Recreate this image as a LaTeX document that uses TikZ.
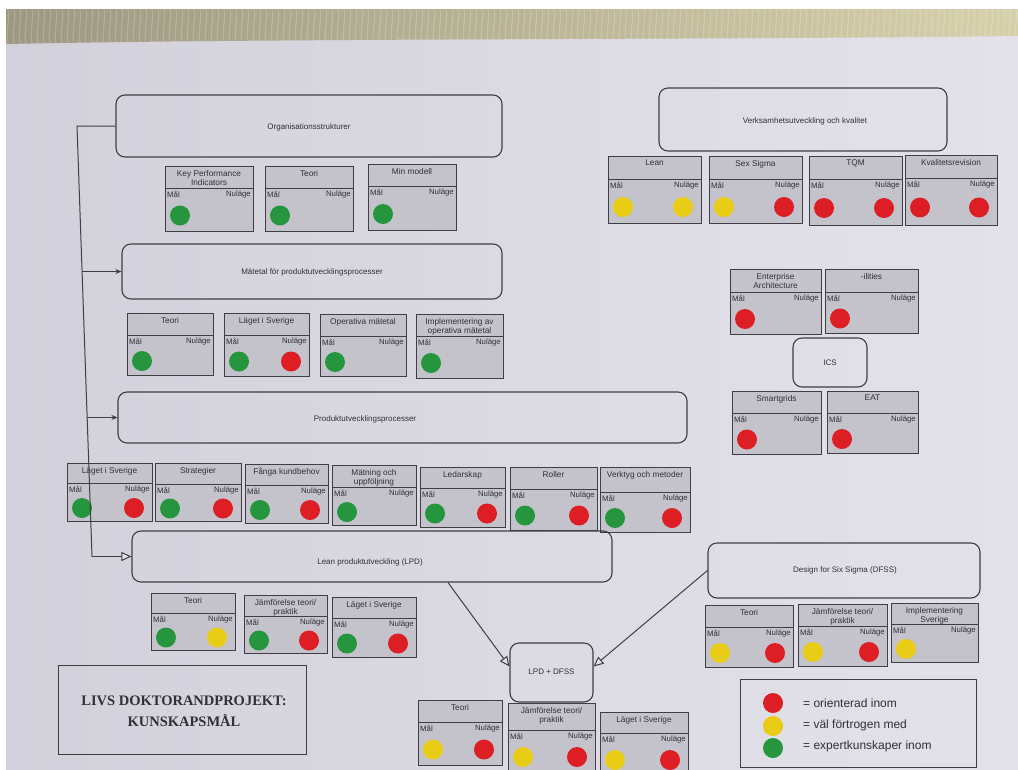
\documentclass[tikz,border=0pt]{standalone}
\usepackage{fontspec}
\setmainfont{Liberation Sans}
\newfontfamily\postertitle{Liberation Serif}
\usetikzlibrary{arrows.meta,calc}

\definecolor{paperL}{RGB}{210,208,218}
\definecolor{paperR}{RGB}{228,226,233}
\definecolor{wallL}{RGB}{158,152,130}
\definecolor{wallR}{RGB}{214,208,170}
\definecolor{boxline}{RGB}{62,62,68}
\definecolor{ink}{RGB}{48,48,54}
\definecolor{cellgray}{RGB}{196,195,204}
\definecolor{kgreen}{RGB}{38,150,62}
\definecolor{kred}{RGB}{221,30,36}
\definecolor{kyellow}{RGB}{232,204,22}

\tikzset{
  bigbox/.style={draw=boxline, line width=1.1pt, rounded corners=9pt, inner sep=0pt},
  bigtext/.style={text=ink, font=\fontsize{8}{9.5}\selectfont, inner sep=0pt},
  cellbox/.style={draw=boxline, line width=1pt, fill=cellgray},
  cellrule/.style={draw=boxline, line width=0.9pt},
  celltitle/.style={text=ink, font=\fontsize{8.3}{9.6}\selectfont, align=center, anchor=north, inner sep=0pt},
  celllabel/.style={text=ink, font=\fontsize{7.8}{9}\selectfont, inner sep=0pt},
  dotn/.style={circle, minimum size=20pt, inner sep=0pt, draw=none},
  conn/.style={draw=boxline, line width=1pt},
  filledtip/.style={-{Stealth[length=6pt,width=5pt]}},
  opentip/.style={-{Triangle[open,length=10pt,width=9pt,fill=paperR]}},
  wallfiber/.style={line width=1.2pt, draw=white, opacity=0.18},
}

% knowledge cell: x1, y1, x2, y2, divider y, title, name, goal dot colour, current dot colour
\newcommand\kbox[9]{%
  \pgfmathsetmacro\kcx{(#1+#3)/2}%
  \pgfmathsetmacro\kdy{(#5+#4)/2+6}%
  \pgfmathsetmacro\klx{#1+15}%
  \pgfmathsetmacro\krx{#3-18}%
  \path[cellbox] (#1,#2) rectangle (#3,#4);
  \draw[cellrule] (#1,#5) -- (#3,#5);
  \node[celltitle] (#7-t) at (\kcx,#2+4) {#6};
  \node[celllabel, anchor=north west] (#7-m) at (#1+2,#5+3) {Mål};
  \node[celllabel, anchor=north east] (#7-n) at (#3-2,#5+3) {Nuläge};
  \node[dotn, fill=#8] (#7-l) at (\klx,\kdy) {};
  \node[dotn, fill=#9] (#7-r) at (\krx,\kdy) {};
}

\begin{document}
\begin{tikzpicture}[x=1pt,y=-1pt]
\useasboundingbox (0,0) rectangle (1018,769);
\fill[white] (0,0) rectangle (1018,769);
% the poster sheet and the wall above it
\shade[left color=paperL, right color=paperR] (6,9) rectangle (1018,769);
\begin{scope}
  \clip (6,9) -- (1018,9) -- (1018,36) .. controls (700,40) and (300,38) .. (6,44) -- cycle;
  \shade[left color=wallL, right color=wallR] (6,9) rectangle (1018,46);
  \foreach \x in {8,14,...,1016} {
    \draw[wallfiber] (\x,9) .. controls (\x+2.5,18) and (\x-2.5,28) .. (\x,46);
  }
\end{scope}

% ---------- main chain on the left ----------
\node[bigbox, minimum width=386pt, minimum height=62pt] (org) at (309,126) {};
\node[bigtext] (orglabel) at (309,127) {Organisationsstrukturer};

\kbox{165}{166}{253}{231}{188}{Key Performance\\Indicators}{kpi}{kgreen}{none}
\kbox{265}{166}{353}{231}{188}{Teori}{orgteori}{kgreen}{none}
\kbox{368}{164}{456}{230}{186}{Min modell}{minmod}{kgreen}{none}

\node[bigbox, minimum width=380pt, minimum height=55pt] (mat) at (312,271.5) {};
\node[bigtext] (matlabel) at (312,272) {Mätetal för produktutvecklingsprocesser};

\kbox{127}{313}{213}{375}{335}{Teori}{mteori}{kgreen}{none}
\kbox{224}{313}{309}{376}{335}{Läget i Sverige}{mlaget}{kgreen}{kred}
\kbox{320}{314}{406}{376}{336}{Operativa mätetal}{mopm}{kgreen}{none}
\kbox{416}{314}{503}{378}{336}{Implementering av\\operativa mätetal}{mimpl}{kgreen}{none}

\node[bigbox, minimum width=569pt, minimum height=51pt] (prod) at (402.5,417.5) {};
\node[bigtext] (prodlabel) at (365,419) {Produktutvecklingsprocesser};

\kbox{67}{463}{152}{521}{483}{Läget i Sverige}{plaget}{kgreen}{kred}
\kbox{155}{463}{241}{521}{484}{Strategier}{pstrat}{kgreen}{kred}
\kbox{245}{464}{328}{523}{485}{Fånga kundbehov}{pfanga}{kgreen}{kred}
\kbox{332}{465}{416}{525}{487}{Mätning och\\uppföljning}{pmatn}{kgreen}{none}
\kbox{420}{467}{505}{527}{488}{Ledarskap}{pledar}{kgreen}{kred}
\kbox{510}{467}{597}{530}{489}{Roller}{proller}{kgreen}{kred}
\kbox{600}{467}{690}{532}{492}{Verktyg och metoder}{pverk}{kgreen}{kred}

\node[bigbox, minimum width=480pt, minimum height=51pt] (lpd) at (372,556.5) {};
\node[bigtext] (lpdlabel) at (370,562) {Lean produktutveckling (LPD)};

\kbox{151}{593}{235}{650}{613}{Teori}{lteori}{kgreen}{kyellow}
\kbox{244}{595}{327}{653}{616}{Jämförelse teori/\\praktik}{ljamf}{kgreen}{kred}
\kbox{332}{597}{416}{657}{618}{Läget i Sverige}{llaget}{kgreen}{kred}

% trunk joining the four blocks
\coordinate (t1) at (82,271.5);
\coordinate (t2) at (87,417.5);
\coordinate (t3) at (92,556.5);
\draw[conn] (org.west) -- (77,126) -- (t3);
\draw[conn, filledtip] (t1) -- (mat.west);
\draw[conn, filledtip] (t2) -- (prod.west);
\draw[conn, opentip] (t3) -- (lpd.west);

% ---------- quality block ----------
\node[bigbox, minimum width=288pt, minimum height=63pt] (verk) at (803,119.5) {};
\node[bigtext] (verklabel) at (805,121) {Verksamhetsutveckling och kvalitet};

\kbox{608}{156}{701}{223}{179}{Lean}{vlean}{kyellow}{kyellow}
\kbox{709}{156}{802}{223}{179}{Sex Sigma}{vsex}{kyellow}{kred}
\kbox{809}{156}{902}{225}{179}{TQM}{vtqm}{kred}{kred}
\kbox{905}{155}{997}{225}{178}{Kvalitetsrevision}{vkval}{kred}{kred}

% ---------- ICS block ----------
\kbox{730}{269}{821}{334}{292}{Enterprise\\Architecture}{ea}{kred}{none}
\kbox{825}{269}{918}{333}{292}{-ilities}{ilit}{kred}{none}
\node[bigbox, minimum width=74pt, minimum height=49pt] (ics) at (830,362.5) {};
\node[bigtext] (icslabel) at (830,363) {ICS};
\kbox{732}{391}{821}{454}{413}{Smartgrids}{smart}{kred}{none}
\kbox{827}{391}{918}{453}{413}{EAT}{eat}{kred}{none}

% ---------- DFSS and the combined block ----------
\node[bigbox, minimum width=272pt, minimum height=55pt] (dfss) at (844,570.5) {};
\node[bigtext] (dfsslabel) at (845,570) {Design for Six Sigma (DFSS)};

\kbox{705}{605}{793}{667}{627}{Teori}{dteori}{kyellow}{kred}
\kbox{798}{604}{887}{666}{626}{Jämförelse teori/\\praktik}{djamf}{kyellow}{kred}
\kbox{891}{603}{978}{662}{624}{Implementering\\Sverige}{dimpl}{kyellow}{none}

\node[bigbox, minimum width=83pt, minimum height=59pt] (both) at (551.5,672.5) {};
\node[bigtext] (bothlabel) at (551.5,672) {LPD + DFSS};

\draw[conn, opentip] ($(lpd.south west)!0.658!(lpd.south east)$) -- ($(both.north west)!0.4!(both.south west)$);
\draw[conn, opentip] (dfss.west) -- ($(both.north east)!0.4!(both.south east)$);

\kbox{418}{700}{502}{765}{722}{Teori}{bteori}{kyellow}{kred}
\kbox{508}{703}{595}{772}{730}{Jämförelse teori/\\praktik}{bjamf}{kyellow}{kred}
\kbox{600}{712}{688}{775}{733}{Läget i Sverige}{blaget}{kyellow}{kred}

% ---------- poster title ----------
\node[draw=boxline, line width=1pt, minimum width=248pt, minimum height=89pt, inner sep=0pt] (title) at (182,709.5) {};
\node[text=ink, font=\postertitle\bfseries\fontsize{14.5}{21}\selectfont, align=center, inner sep=0pt] (titletext) at (184,711)
  {LIVS DOKTORANDPROJEKT:\\KUNSKAPSMÅL};

% ---------- legend ----------
\node[draw=boxline, line width=1pt, minimum width=236pt, minimum height=88pt, inner sep=0pt] (legend) at (858,723) {};
\node[dotn, fill=kred] (lgred) at (773,703) {};
\node[dotn, fill=kyellow] (lgyel) at (773,726) {};
\node[dotn, fill=kgreen] (lggrn) at (773,748) {};
\tikzset{legtext/.style={text=ink, font=\fontsize{12}{13}\selectfont, anchor=west, inner sep=0pt}}
\node[legtext] (lt1) at (803,703) {= orienterad inom};
\node[legtext] (lt2) at (803,725) {= väl förtrogen med};
\node[legtext] (lt3) at (803,746) {= expertkunskaper inom};
\end{tikzpicture}
\end{document}
